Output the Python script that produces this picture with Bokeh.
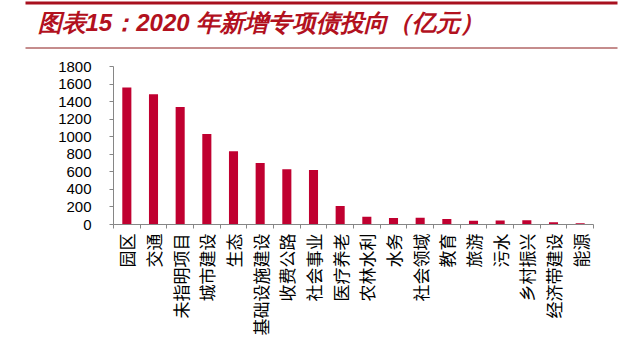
import math
from bokeh.plotting import figure
from bokeh.models import Range1d, FixedTicker, ColumnDataSource
from bokeh.layouts import column
from bokeh.embed import file_html
from bokeh.resources import INLINE
from bokeh.core.properties import value

# ---- data ----
categories = ["园区", "交通", "未指明项目", "城市建设", "生态", "基础设施建设",
              "收费公路", "社会事业", "医疗养老", "农林水利", "水务", "社会领域",
              "教育", "旅游", "污水", "乡村振兴", "经济带建设", "能源"]
amounts = [1560, 1485, 1340, 1030, 835, 700, 630, 620, 212, 88, 75, 77,
           63, 44, 45, 48, 25, 13]
y_ticks = [0, 200, 400, 600, 800, 1000, 1200, 1400, 1600, 1800]
title_text = "图表15：2020 年新增专项债投向（亿元）"

BAR = "#C00030"
DARKRED = "#A8101E"
AXIS = "#868686"

# ---- header ----
h = figure(width=634, height=55, x_range=Range1d(0, 634), y_range=Range1d(55, 0),
           output_backend="svg", toolbar_location=None,
           min_border=0, min_border_left=0, min_border_right=0,
           min_border_top=0, min_border_bottom=0)
h.frame_align = False
h.axis.visible = False
h.grid.visible = False
h.outline_line_color = None
h.background_fill_color = "white"
h.border_fill_color = "white"
h.quad(left=[25], right=[617], top=[1], bottom=[4], color=DARKRED, line_color=None)
h.segment(x0=[25], x1=[617], y0=[47.5], y1=[47.5], line_color="#8B1A1A", line_width=1)
h.text(x=[37], y=[22], text=[title_text], text_color="#B2111E",
       text_font=value("Liberation Sans"), text_font_style="bold italic",
       text_font_size="24px", text_baseline="middle", text_align="left")

# ---- chart ----
src = ColumnDataSource(dict(x=[i + 0.5 for i in range(len(categories))], top=amounts))

p = figure(width=634, height=296, x_range=Range1d(0, len(categories)),
           y_range=Range1d(0, 1800), output_backend="svg", toolbar_location=None,
           min_border_left=113, min_border_right=41, min_border_top=11,
           min_border_bottom=127)
p.frame_align = False
p.vbar(x="x", top="top", width=0.34, source=src, color=BAR, line_color=None)

p.grid.visible = False
p.outline_line_color = None
p.background_fill_color = "white"
p.border_fill_color = "white"

ya = p.yaxis[0]
ya.ticker = FixedTicker(ticks=y_ticks)
ya.axis_line_color = AXIS
ya.major_tick_line_color = AXIS
ya.major_tick_in = 0
ya.major_tick_out = 4
ya.minor_tick_line_color = None
ya.major_label_standoff = 18
ya.major_label_text_font = "Liberation Sans"
ya.major_label_text_font_size = "15px"
ya.major_label_text_color = "black"

xa = p.xaxis[0]
xa.ticker = FixedTicker(ticks=[i + 0.5 for i in range(len(categories))],
                        minor_ticks=list(range(len(categories) + 1)))
xa.major_label_overrides = {i + 0.5: c for i, c in enumerate(categories)}
xa.axis_line_color = AXIS
xa.major_tick_in = 0
xa.major_tick_out = 0
xa.minor_tick_in = 0
xa.minor_tick_out = 4
xa.minor_tick_line_color = AXIS
xa.major_label_orientation = math.pi / 2
xa.major_label_standoff = 5
xa.major_label_text_font = "Noto Sans CJK SC"
xa.major_label_text_font_size = "17px"
xa.major_label_text_color = "black"

layout = column(h, p, spacing=0)
open("out.html", "w").write(file_html(layout, INLINE))
